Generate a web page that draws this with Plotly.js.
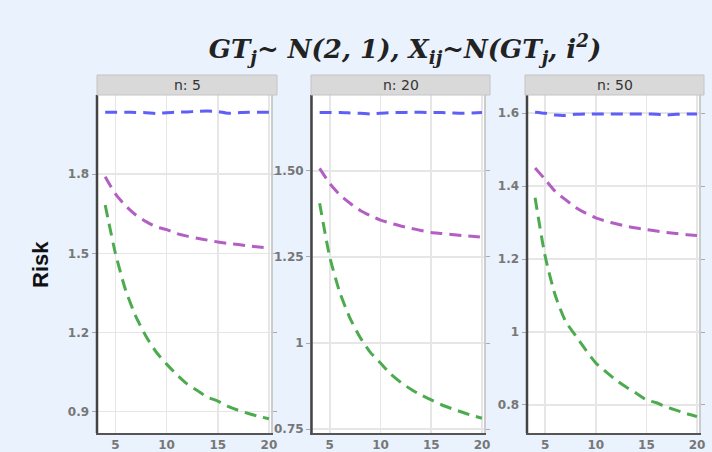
<!DOCTYPE html>
<html>
<head>
<meta charset="utf-8">
<script src="https://cdn.plot.ly/plotly-3.0.1.min.js"></script>
<style>html,body{margin:0;padding:0;background:#eaf2fd;}#chart{width:712px;height:452px;}</style>
</head>
<body>
<div id="chart"></div>
<script>
// ---- data ----
const iValues = [4,5,6,7,8,9,10,11,12,13,14,15,16,17,18,19,20];
const panelNames = ["n: 5", "n: 20", "n: 50"];

const blueN5   = [2.035,2.035,2.035,2.034,2.033,2.030,2.033,2.035,2.036,2.038,2.039,2.037,2.031,2.033,2.035,2.035,2.035];
const purpleN5 = [1.79,1.725,1.68,1.645,1.62,1.60,1.59,1.575,1.565,1.557,1.55,1.543,1.537,1.533,1.528,1.524,1.52];
const greenN5  = [1.683,1.50,1.36,1.26,1.185,1.125,1.08,1.04,1.005,0.98,0.955,0.94,0.92,0.905,0.893,0.882,0.873];

const blueN20   = [1.669,1.669,1.669,1.668,1.667,1.665,1.667,1.669,1.669,1.670,1.670,1.669,1.669,1.668,1.667,1.668,1.669];
const purpleN20 = [1.507,1.463,1.43,1.406,1.385,1.37,1.357,1.348,1.34,1.333,1.327,1.321,1.318,1.315,1.312,1.31,1.307];
const greenN20  = [1.406,1.25,1.146,1.072,1.016,0.973,0.942,0.91,0.886,0.866,0.849,0.835,0.821,0.81,0.80,0.79,0.782];

const blueN50   = [1.603,1.600,1.595,1.594,1.597,1.598,1.598,1.598,1.598,1.598,1.598,1.598,1.597,1.595,1.597,1.598,1.598];
const purpleN50 = [1.45,1.418,1.385,1.363,1.342,1.326,1.313,1.304,1.297,1.29,1.285,1.281,1.277,1.273,1.27,1.267,1.265];
const greenN50  = [1.368,1.207,1.10,1.03,0.99,0.951,0.915,0.891,0.868,0.849,0.832,0.814,0.806,0.794,0.785,0.776,0.768];

const xTicks = [5,10,15,20];
const yTicksN5 = [0.9,1.2,1.5,1.8];
const yLabelsN5 = ["0.9","1.2","1.5","1.8"];
const yTicksN20 = [0.75,1,1.25,1.5];
const yLabelsN20 = ["0.75","1","1.25","1.50"];
const yTicksN50 = [0.8,1,1.2,1.4,1.6];
const yLabelsN50 = ["0.8","1","1.2","1.4","1.6"];

// ---- styles ----
const colors = {blue:"#5f5ff8", purple:"#b35ec3", green:"#4dab4f"};
const dashPat = "12px,7px";
const series = [
  [blueN5, purpleN5, greenN5],
  [blueN20, purpleN20, greenN20],
  [blueN50, purpleN50, greenN50]
];
const colorList = [colors.blue, colors.purple, colors.green];

const traces = [];
series.forEach((grp, p) => {
  grp.forEach((ys, k) => {
    traces.push({
      type: "scatter", mode: "lines", x: iValues, y: ys,
      xaxis: p === 0 ? "x" : "x" + (p + 1),
      yaxis: p === 0 ? "y" : "y" + (p + 1),
      line: {color: colorList[k], width: 3, dash: dashPat, shape: "spline", smoothing: 0.6},
      showlegend: false, hoverinfo: "skip"
    });
  });
});

const W = 712, H = 452;
const xDom = [[97/W, 271/W], [311.5/W, 484/W], [527/W, 699/W]];
const yDom = [1 - 433/H, 1 - 95/H];
const stripX = [[97/W, 277/W], [311/W, 490/W], [525/W, 704/W]];
const yRanges = [[0.819, 2.10], [0.739, 1.72], [0.723, 1.65]];
const yT = [[yTicksN5, yLabelsN5], [yTicksN20, yLabelsN20], [yTicksN50, yLabelsN50]];

const yTickFont = {family: "DejaVu Sans", size: 12, color: "#777", weight: "bold"};
const xTickFont = {family: "DejaVu Sans", size: 12, color: "#777", weight: "bold"};
const layout = {
  width: W, height: H,
  paper_bgcolor: "#eaf2fd", plot_bgcolor: "#ffffff",
  margin: {l: 0, r: 0, t: 0, b: 0},
  showlegend: false,
  title: {
    text: "GT<sub>j</sub>~ N(2, 1), X<sub>ij</sub>~N(GT<sub>j</sub>, i<sup>2</sup>)",
    font: {family: "DejaVu Serif", size: 26, color: "#222", weight: "bold", style: "italic"},
    x: 405/W, xanchor: "center", y: 1 - 49/H, yanchor: "middle"
  },
  shapes: [], annotations: []
};

for (let p = 0; p < 3; p++) {
  const sx = p === 0 ? "" : String(p + 1);
  layout["xaxis" + sx] = {
    domain: xDom[p], range: [3.2, 20.2], anchor: "y" + sx,
    tickvals: xTicks, ticktext: xTicks.map(String),
    showgrid: true, gridcolor: "#e6e6e6", gridwidth: 1.5,
    zeroline: false, showline: true, linecolor: "#555", linewidth: 2,
    ticks: "", tickfont: xTickFont, fixedrange: true
  };
  layout["yaxis" + sx] = {
    domain: yDom, range: yRanges[p], anchor: "x" + sx,
    tickvals: yT[p][0], ticktext: yT[p][1],
    showgrid: true, gridcolor: "#e6e6e6", gridwidth: 1.5,
    zeroline: false, showline: true, linecolor: "#cccccc", linewidth: 1.5,
    mirror: "ticks", ticks: "outside", ticklen: 4, tickcolor: "#aaaaaa",
    tickfont: yTickFont, fixedrange: true
  };
  // dark left axis line
  layout.shapes.push({
    type: "line", xref: "x" + sx + " domain", yref: "y" + sx + " domain",
    x0: 0, x1: 0, y0: 0, y1: 1, line: {color: "#444", width: 2.5}
  });
  // strip
  layout.shapes.push({
    type: "rect", xref: "paper", yref: "paper",
    x0: stripX[p][0], x1: stripX[p][1], y0: 1 - 95/H, y1: 1 - 75/H,
    fillcolor: "#d9d9d9", line: {color: "#c4c4c4", width: 1}
  });
  layout.annotations.push({
    text: panelNames[p], xref: "paper", yref: "paper",
    x: (stripX[p][0] + stripX[p][1]) / 2, y: 1 - 85/H,
    xanchor: "center", yanchor: "middle", showarrow: false,
    font: {family: "DejaVu Sans", size: 14, color: "#333"}
  });
}

layout.annotations.push({
  text: "<b>Risk</b>", xref: "paper", yref: "paper",
  x: 40/W, y: 1 - 265/H, xanchor: "center", yanchor: "middle",
  showarrow: false, textangle: -90,
  font: {family: "Liberation Sans Narrow, Liberation Sans", size: 22, color: "#111"}
});

Plotly.newPlot("chart", traces, layout, {staticPlot: true, displayModeBar: false});
</script>
</body>
</html>
